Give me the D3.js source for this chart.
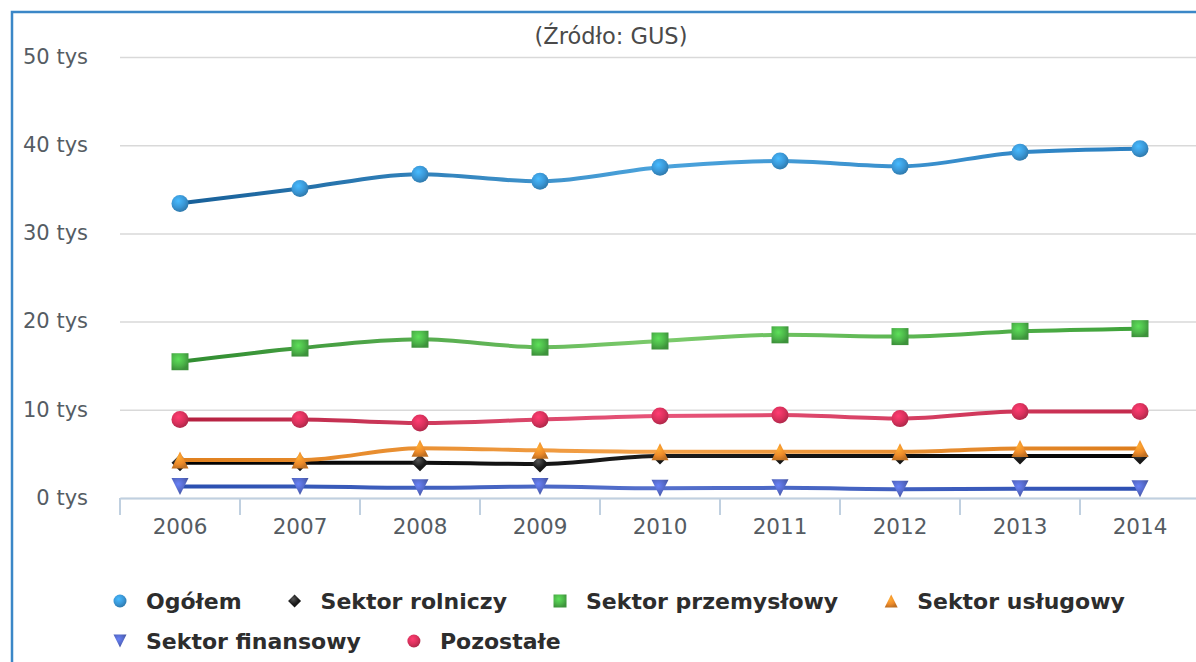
<!DOCTYPE html>
<html>
<head>
<meta charset="utf-8">
<script src="https://cdn.jsdelivr.net/npm/d3@7"></script>
<style>
  html, body { margin: 0; padding: 0; background: #fff; }
  svg { display: block; }
</style>
</head>
<body>
<script>
// data (values in persons)
var years = ["2006", "2007", "2008", "2009", "2010", "2011", "2012", "2013", "2014"];
var ogolem      = [33400, 35100, 36700, 35900, 37500, 38200, 37600, 39200, 39600];
var rolniczy    = [4000, 4000, 4000, 3850, 4750, 4750, 4750, 4750, 4750];
var przemyslowy = [15450, 17000, 18000, 17100, 17800, 18500, 18300, 18900, 19200];
var uslugowy    = [4300, 4300, 5650, 5400, 5250, 5250, 5250, 5600, 5600];
var finansowy   = [1300, 1300, 1150, 1300, 1100, 1150, 1000, 1050, 1050];
var pozostale   = [8900, 8900, 8500, 8900, 9300, 9400, 9000, 9800, 9800];
var yTicks = [0, 10000, 20000, 30000, 40000, 50000];

var seriesNames = ["Ogółem", "Sektor rolniczy", "Sektor przemysłowy", "Sektor usługowy", "Sektor finansowy", "Pozostałe"];
var seriesValues = [ogolem, rolniczy, przemyslowy, uslugowy, finansowy, pozostale];
var symbols = ["circle", "diamond", "square", "triangle", "triangle-down", "circle"];
var colors = ["#3a97d6", "#1a1a1a", "#4cb549", "#ee8b2a", "#5468c6", "#d9315c"];
// line shades: left, middle, right
var lineShades = [
  ["#175f98", "#4ba3dc", "#2a7fc0"],
  ["#000000", "#1c1c1c", "#050505"],
  ["#2f8c30", "#7ccb6c", "#3ea23a"],
  ["#e0801e", "#f4a24a", "#dd7d1c"],
  ["#2a4fb0", "#5570cc", "#2c4fb2"],
  ["#b4203f", "#e8557a", "#c42a4c"]
];

var width = 1196, height = 662;

var svg = d3.select("body").append("svg")
  .attr("width", width)
  .attr("height", height);

var defs = svg.append("defs");

var x = d3.scaleBand().domain(years).range([120, 1200]);
var y = d3.scaleLinear().domain([0, 50000]).range([498, 57]);

// frame
svg.append("rect")
  .attr("x", 12).attr("y", 12)
  .attr("width", 1400).attr("height", 900)
  .attr("fill", "none")
  .attr("stroke", "#3b87c7")
  .attr("stroke-width", 2.5);

// title
svg.append("text")
  .attr("x", 611).attr("y", 44)
  .attr("text-anchor", "middle")
  .style("font-family", "'DejaVu Sans', sans-serif")
  .style("font-size", "22.5px")
  .attr("fill", "#4a4a4a")
  .text("(Źródło: GUS)");

// y axis with gridlines
var yAxis = svg.append("g")
  .attr("transform", "translate(120,0)")
  .call(d3.axisLeft(y).tickValues(yTicks)
    .tickSize(-(width - 120))
    .tickPadding(32)
    .tickFormat(function(d) { return (d / 1000) + " tys"; }));
yAxis.select(".domain").remove();
yAxis.selectAll(".tick line").attr("stroke", "#d9d9d9").attr("stroke-width", 1.5);
yAxis.selectAll(".tick text")
  .attr("dy", "0.3em")
  .attr("fill", "#555c63")
  .style("font-family", "'DejaVu Sans', sans-serif")
  .style("font-size", "21px");

// x axis
var xAxis = svg.append("g")
  .attr("transform", "translate(0," + y(0) + ")")
  .call(d3.axisBottom(x).tickSize(0).tickPadding(21));
xAxis.select(".domain").attr("stroke", "#c0d0e0").attr("stroke-width", 2);
xAxis.selectAll(".tick text")
  .attr("fill", "#555c63")
  .style("font-family", "'DejaVu Sans', sans-serif")
  .style("font-size", "21.5px");

// tick marks between categories
var bounds = years.map(function(d) { return x(d); }).concat([x(years[years.length - 1]) + x.bandwidth()]);
xAxis.selectAll("line.cat-tick").data(bounds).enter()
  .append("line")
  .attr("class", "cat-tick")
  .attr("x1", function(d) { return d; })
  .attr("x2", function(d) { return d; })
  .attr("y1", 0).attr("y2", 17)
  .attr("stroke", "#c0d0e0")
  .attr("stroke-width", 2);

// gradients
seriesNames.forEach(function(name, i) {
  var lg = defs.append("linearGradient")
    .attr("id", "line" + i)
    .attr("gradientUnits", "userSpaceOnUse")
    .attr("x1", x(years[0]) + x.bandwidth() / 2)
    .attr("x2", x(years[years.length - 1]) + x.bandwidth() / 2)
    .attr("y1", 0).attr("y2", 0);
  lg.append("stop").attr("offset", "0%").attr("stop-color", lineShades[i][0]);
  lg.append("stop").attr("offset", "50%").attr("stop-color", lineShades[i][1]);
  lg.append("stop").attr("offset", "100%").attr("stop-color", lineShades[i][2]);

  var base = d3.color(colors[i]);
  var rg = defs.append("radialGradient")
    .attr("id", "mark" + i)
    .attr("cx", "40%").attr("cy", "35%").attr("r", "65%");
  rg.append("stop").attr("offset", "0%").attr("stop-color", i == 1 ? "#555" : base.brighter(0.6));
  rg.append("stop").attr("offset", "60%").attr("stop-color", base);
  rg.append("stop").attr("offset", "100%").attr("stop-color", base.darker(0.6));
});

function symbolPath(type, s) {
  // s = half size
  if (type == "diamond") return "M0," + (-s) + "L" + s + ",0L0," + s + "L" + (-s) + ",0Z";
  if (type == "square") return "M" + (-s) + "," + (-s) + "h" + (2 * s) + "v" + (2 * s) + "h" + (-2 * s) + "Z";
  if (type == "triangle") return "M0," + (-s) + "L" + s + "," + s + "L" + (-s) + "," + s + "Z";
  if (type == "triangle-down") return "M" + (-s) + "," + (-s) + "L" + s + "," + (-s) + "L0," + s + "Z";
  return "M" + (-s) + ",0A" + s + "," + s + " 0 1,0 " + s + ",0A" + s + "," + s + " 0 1,0 " + (-s) + ",0Z";
}

var line = d3.line()
  .x(function(d, i) { return x(years[i]) + x.bandwidth() / 2; })
  .y(function(d) { return y(d); })
  .curve(d3.curveMonotoneX);

var series = svg.selectAll("g.series").data(seriesValues).enter()
  .append("g").attr("class", "series");

series.append("path")
  .attr("d", function(d) { return line(d); })
  .attr("fill", "none")
  .attr("stroke", function(d, i) { return "url(#line" + i + ")"; })
  .attr("stroke-width", 4)
  .attr("stroke-linejoin", "round")
  .attr("stroke-linecap", "round");

series.each(function(vals, i) {
  d3.select(this).selectAll("path.marker").data(vals).enter()
    .append("path")
    .attr("class", "marker")
    .attr("transform", function(d, j) {
      return "translate(" + (x(years[j]) + x.bandwidth() / 2) + "," + y(d) + ")";
    })
    .attr("d", symbolPath(symbols[i], 8.5))
    .attr("fill", "url(#mark" + i + ")");
});

// legend
var legend = svg.append("g");
var lx = 120, ly = 601, maxX = 1160;
seriesNames.forEach(function(name, i) {
  var item = legend.append("g");
  var t = item.append("text")
    .attr("y", 8)
    .attr("x", 26)
    .style("font-family", "'DejaVu Sans', sans-serif")
    .style("font-size", "22px")
    .style("font-weight", "bold")
    .attr("fill", "#2d2d2d")
    .text(name);
  var w = t.node().getComputedTextLength();
  if (lx + 26 + w > maxX) { lx = 120; ly += 40; }
  item.attr("transform", "translate(" + lx + "," + ly + ")");
  item.append("path")
    .attr("d", symbolPath(symbols[i], 6.5))
    .attr("fill", "url(#mark" + i + ")");
  lx += 26 + w + 53;
});
</script>
</body>
</html>
